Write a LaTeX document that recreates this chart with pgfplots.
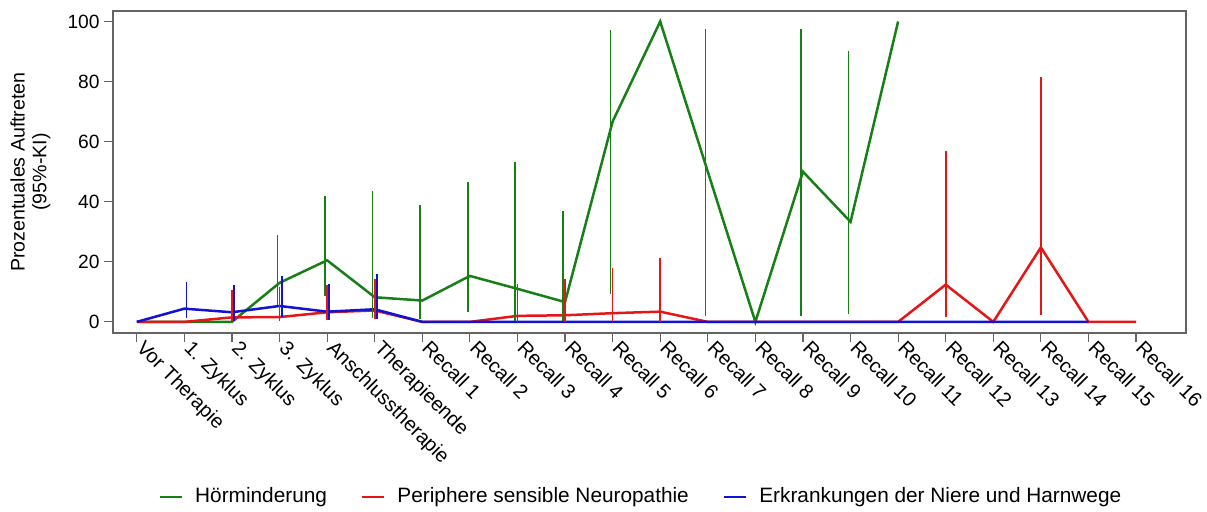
\documentclass[border=0pt]{standalone}
\usepackage{fontspec}
\setmainfont{Liberation Sans}
\usepackage{pgfplots}
\usepackage{pgfplotstable}
\pgfplotsset{compat=1.18}

\definecolor{cgreen}{RGB}{22,128,22}
\definecolor{cred}{RGB}{228,22,22}
\definecolor{cblue}{RGB}{18,18,210}
\definecolor{caxis}{RGB}{100,100,100}

% Hoerminderung
\pgfplotstableread{
x y
0 0
1 0
2 0
3 13.0
4 20.5
5 8.2
6 7.1
7 15.3
8 11.0
9 6.6
10 66.7
11 100
12 50
13 0
14 50
15 33.3
16 100
}\green
\pgfplotstableread{
x y lo hi
3 13.0 5.7 29.0
4 20.5 8.7 41.8
5 8.2 1.3 43.5
6 7.1 1.0 38.8
7 15.3 3.4 46.5
8 11.0 0.4 53.2
9 6.6 0.4 36.9
10 66.7 9.3 97.3
12 50 2.0 97.6
14 50 2.0 97.6
15 33.3 2.5 90.3
}\greenci
% Periphere sensible Neuropathie
\pgfplotstableread{
x y
0 0
1 0
2 1.5
3 1.6
4 3.2
5 3.8
6 0
7 0
8 2.0
9 2.2
10 2.9
11 3.4
12 0
13 0
14 0
15 0
16 0
17 12.4
18 0
19 24.8
20 0
21 0
}\red
\pgfplotstableread{
x y lo hi
2 1.5 0.4 10.7
3 1.6 0.4 11.6
4 3.2 0.7 12.3
5 3.8 0.9 14.2
8 2.0 0.1 12.6
9 2.2 0.1 14.2
10 2.9 0.1 17.9
11 3.4 0.1 21.2
17 12.4 1.6 56.8
19 24.8 2.3 81.4
}\redci
% Erkrankungen der Niere und Harnwege
\pgfplotstableread{
x y
0 0
1 4.4
2 3.2
3 5.3
4 3.4
5 4.2
6 0
7 0
8 0
9 0
10 0
11 0
12 0
13 0
14 0
15 0
16 0
17 0
18 0
19 0
20 0
}\blue
\pgfplotstableread{
x y lo hi
1 4.4 1.2 13.2
2 3.2 0.4 12.3
3 5.3 1.6 15.4
4 3.4 0.7 12.7
5 4.2 0.9 15.9
}\blueci

\begin{document}
\begin{tikzpicture}
\begin{axis}[
  scale only axis,
  width=536.5pt, height=161pt,
  xmin=-0.5, xmax=22.05,
  ymin=-3.7, ymax=103.5,
  xtick={0,...,21},
  xticklabels={Vor Therapie,1. Zyklus,2. Zyklus,3. Zyklus,Anschlusstherapie,Therapieende,Recall 1,Recall 2,Recall 3,Recall 4,Recall 5,Recall 6,Recall 7,Recall 8,Recall 9,Recall 10,Recall 11,Recall 12,Recall 13,Recall 14,Recall 15,Recall 16},
  ytick={0,20,...,100},
  tick pos=left,
  tick align=outside,
  major tick length=4.5pt,
  every tick/.style={caxis, line width=0.6pt},
  axis line style={caxis, line width=0.8pt},
  /pgf/number format/assume math mode=true,
  yticklabel style={font=\fontsize{9.6}{11}\selectfont, inner sep=2pt},
  xticklabel style={font=\fontsize{10}{12}\selectfont, rotate=-45, anchor=north west, inner sep=1pt, xshift=1pt, yshift=5.5pt},
  ylabel={Prozentuales Auftreten\\(95\%-KI)},
  ylabel style={font=\fontsize{9.8}{10.8}\selectfont, align=center, at={(axis description cs:-0.077,0.5)}, anchor=center, rotate=0},
  legend style={at={(axis description cs:0.493,-0.509)}, anchor=center, draw=none, fill=none,
    font=\fontsize{10.4}{12}\selectfont, legend columns=3,
    /tikz/every even column/.append style={column sep=15pt},
    nodes={inner sep=2pt}},
  legend cell align=left,
  legend image code/.code={\draw[#1, line width=1.25pt] (0pt,0pt) -- (11pt,0pt); \path (15pt,0pt);},
]
\addplot[cgreen, line width=1.25pt, no marks] table[x=x,y=y] {\green};
\addlegendentry{Hörminderung}
\addplot[cred, line width=1.25pt, no marks] table[x=x,y=y] {\red};
\addlegendentry{Periphere sensible Neuropathie}
\addplot[cblue, line width=1.25pt, no marks] table[x=x,y=y] {\blue};
\addlegendentry{Erkrankungen der Niere und Harnwege}

\addplot[forget plot, draw=none, no marks,
  error bars/.cd, y dir=both, y explicit, error mark=none,
  error bar style={cgreen, line width=0.85pt}]
  table[x expr=\thisrow{x}-0.045, y=y, y error plus expr=\thisrow{hi}-\thisrow{y}, y error minus expr=\thisrow{y}-\thisrow{lo}] {\greenci};
\addplot[forget plot, draw=none, no marks,
  error bars/.cd, y dir=both, y explicit, error mark=none,
  error bar style={cred, line width=0.85pt}]
  table[x=x, y=y, y error plus expr=\thisrow{hi}-\thisrow{y}, y error minus expr=\thisrow{y}-\thisrow{lo}] {\redci};
\addplot[forget plot, draw=none, no marks,
  error bars/.cd, y dir=both, y explicit, error mark=none,
  error bar style={cblue, line width=0.85pt}]
  table[x expr=\thisrow{x}+0.045, y=y, y error plus expr=\thisrow{hi}-\thisrow{y}, y error minus expr=\thisrow{y}-\thisrow{lo}] {\blueci};
\end{axis}
\pgfresetboundingbox
\path[use as bounding box] (-56.5pt,-89.5pt) rectangle (547pt,166.5pt);
\end{tikzpicture}
\end{document}
